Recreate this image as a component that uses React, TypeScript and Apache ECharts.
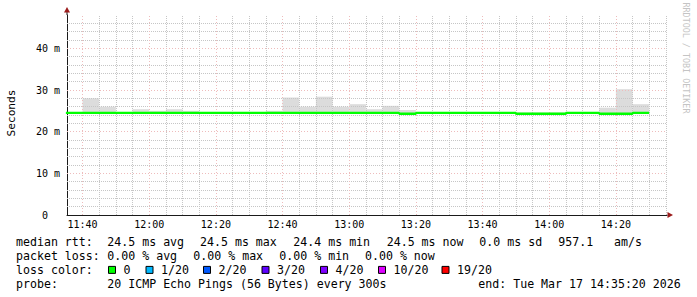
import React, { useEffect, useRef } from 'react';
import * as echarts from 'echarts';

// ---- data ----
const slotStarts = [
  '11:35', '11:40', '11:45', '11:50', '11:55',
  '12:00', '12:05', '12:10', '12:15', '12:20', '12:25', '12:30', '12:35', '12:40', '12:45', '12:50', '12:55',
  '13:00', '13:05', '13:10', '13:15', '13:20', '13:25', '13:30', '13:35', '13:40', '13:45', '13:50', '13:55',
  '14:00', '14:05', '14:10', '14:15', '14:20', '14:25',
];
// median rtt per 5-minute slot (ms)
const medianRtt = [
  24.5, 24.5, 24.5, 24.5, 24.5, 24.5, 24.5, 24.5, 24.5, 24.5,
  24.5, 24.5, 24.5, 24.5, 24.5, 24.5, 24.5, 24.5, 24.5, 24.5,
  24.3, 24.5, 24.5, 24.5, 24.5, 24.5, 24.5, 24.3, 24.3, 24.3,
  24.5, 24.5, 24.3, 24.3, 24.5,
];
// highest ping per slot (top of the smoke, ms)
const smokeMax = [
  24.6, 28.0, 26.0, 24.7, 25.4, 25.0, 25.4, 25.0, 24.7, 24.6,
  24.6, 24.7, 25.0, 28.2, 26.0, 28.4, 26.0, 26.6, 25.4, 26.2,
  25.2, 24.7, 24.6, 24.6, 24.7, 24.6, 24.6, 24.6, 24.6, 24.6,
  24.7, 24.6, 25.75, 30.2, 26.6,
];
const slotLength = 5; // minutes (300 s step)
const windowStart = '11:35:20';
const windowEnd = '14:35:20';
const xTickLabels = ['11:40', '12:00', '12:20', '12:40', '13:00', '13:20', '13:40', '14:00', '14:20'];
const yTickValues = [0, 10, 20, 30, 40];
const yTickLabels = ['0', '10 m', '20 m', '30 m', '40 m'];
const yMax = 48;
const yMinorStep = 2;
const xMinorStep = 5;

const statsRow1 = ['median rtt:', '24.5 ms avg', '24.5 ms max', '24.4 ms min', '24.5 ms now', '0.0 ms sd', '957.1', 'am/s'];
const statsRow2 = ['packet loss:', '0.00 % avg', '0.00 % max', '0.00 % min', '0.00 % now'];
const lossLabels = ['0', '1/20', '2/20', '3/20', '4/20', '10/20', '19/20'];
const lossColors = ['#00ff00', '#00b8ff', '#0059ff', '#5e00ff', '#7e00ff', '#dd00ff', '#ff0000'];
const probeRow = ['probe:', '20 ICMP Echo Pings (56 Bytes) every 300s', 'end: Tue Mar 17 14:35:20 2026'];

// ---- layout ----
const row1X = [16, 107.3, 200, 293.3, 386.7, 479.3, 558.3, 614];
const row2X = [16, 107.3, 193.3, 279.3, 365];
const lossBoxX = [108.5, 146, 203.5, 262, 320.5, 378.5, 442];
const probeX = [16, 107.3, 478.3];
const rowY = [241.5, 255.7, 269.9, 284.1];

const toMin = (s: string) => {
  const p = s.split(':').map(Number);
  return p[0] * 60 + p[1] + (p[2] || 0) / 60;
};

const MONO = '"DejaVu Sans Mono", monospace';

export default function App() {
  const ref = useRef<HTMLDivElement>(null);
  useEffect(() => {
    const chart = echarts.init(ref.current!, null, { renderer: 'svg' });
    const xMin = toMin(windowStart);
    const xMax = toMin(windowEnd);
    const slotMins = slotStarts.map(toMin);
    const majorX = xTickLabels.map(toMin);

    const smokeData = slotMins.map((m, i) => [m, medianRtt[i], smokeMax[i]]);
    const lineData = slotMins.map((m, i) => [m, medianRtt[i]]);
    lineData.push([slotMins[slotMins.length - 1] + slotLength, medianRtt[medianRtt.length - 1]]);

    const minorStyle = { color: '#c6c6c6', width: 1, type: [1, 1] as any };
    const majorStyle = { color: '#eebcbc', width: 1, type: [1, 2] as any };
    const gridLines: any[] = [];
    for (let v = Math.ceil(xMin / xMinorStep) * xMinorStep; v < xMax; v += xMinorStep) {
      if (!majorX.some((mv) => Math.abs(mv - v) < 1e-6)) gridLines.push({ xAxis: v, lineStyle: minorStyle });
    }
    for (let v = yMinorStep; v < yMax; v += yMinorStep) {
      if (!yTickValues.includes(v)) gridLines.push({ yAxis: v, lineStyle: minorStyle });
    }
    majorX.forEach((v) => gridLines.push({ xAxis: v, lineStyle: majorStyle }));
    yTickValues.filter((v) => v > 0).forEach((v) => gridLines.push({ yAxis: v, lineStyle: majorStyle }));

    const txt = (text: string, x: number, y: number, extra: any = {}) => ({
      type: 'text',
      x,
      y,
      silent: true,
      style: {
        text,
        fill: '#000',
        font: `11.6px ${MONO}`,
        textAlign: 'left',
        align: 'left',
        textVerticalAlign: 'middle',
        verticalAlign: 'middle',
        ...extra,
      },
    });

    const elements: any[] = [];
    statsRow1.forEach((t, i) => elements.push(txt(t, row1X[i], rowY[0])));
    statsRow2.forEach((t, i) => elements.push(txt(t, row2X[i], rowY[1])));
    elements.push(txt('loss color:', 16, rowY[2]));
    lossLabels.forEach((t, i) => {
      elements.push({
        type: 'rect',
        silent: true,
        shape: { x: lossBoxX[i], y: rowY[2] - 3.5, width: 7, height: 7 },
        style: { fill: lossColors[i], stroke: '#000', lineWidth: 1 },
      });
      elements.push(txt(t, lossBoxX[i] + 15, rowY[2]));
    });
    probeRow.forEach((t, i) => elements.push(txt(t, probeX[i], rowY[3])));
    // y axis title
    elements.push({
      type: 'text', x: 11, y: 113, rotation: Math.PI / 2, silent: true,
      style: { text: 'Seconds', fill: '#000', font: `11.2px ${MONO}`, textAlign: 'center', align: 'center', textVerticalAlign: 'middle', verticalAlign: 'middle' },
    });
    // watermark
    elements.push({
      type: 'text', x: 686, y: 58, rotation: -Math.PI / 2, silent: true,
      style: { text: 'RRDTOOL / TOBI OETIKER', fill: '#c4c4c4', font: `8.4px ${MONO}`, textAlign: 'center', align: 'center', textVerticalAlign: 'middle', verticalAlign: 'middle' },
    });
    // axis arrows
    elements.push({ type: 'line', silent: true, shape: { x1: 67, y1: 15, x2: 67, y2: 12 }, style: { stroke: '#1a1a1a', lineWidth: 1 } });
    elements.push({ type: 'polygon', silent: true, shape: { points: [[64, 12.5], [70, 12.5], [67, 7]] }, style: { fill: '#9b1c1c' } });
    elements.push({ type: 'polygon', silent: true, shape: { points: [[667.5, 212], [667.5, 218], [673, 215]] }, style: { fill: '#9b1c1c' } });

    chart.setOption({
      animation: false,
      backgroundColor: '#ffffff',
      grid: { left: 67, top: 15, width: 600, height: 200, containLabel: false },
      xAxis: {
        type: 'value',
        min: xMin,
        max: xMax,
        splitNumber: 9,
        axisLine: { show: true, lineStyle: { color: '#1a1a1a', width: 1 } },
        axisTick: { show: false },
        splitLine: { show: false },
        axisLabel: {
          customValues: majorX,
          margin: 4,
          color: '#000',
          fontFamily: MONO,
          fontSize: 10,
          formatter: (v: number) => {
            const idx = majorX.findIndex((mv) => Math.abs(mv - v) < 1e-6);
            return idx >= 0 ? xTickLabels[idx] : '';
          },
        },
      },
      yAxis: {
        type: 'value',
        min: 0,
        max: yMax,
        interval: 10,
        axisLine: { show: true, lineStyle: { color: '#1a1a1a', width: 1 } },
        axisTick: { show: false },
        splitLine: { show: false },
        axisLabel: {
          margin: 7,
          color: '#000',
          fontFamily: MONO,
          fontSize: 10,
          formatter: (v: number) => {
            const idx = yTickValues.indexOf(v);
            if (idx < 0) return '';
            return v === 0 ? `{z|${yTickLabels[idx]}}` : yTickLabels[idx];
          },
          rich: { z: { fontFamily: MONO, fontSize: 10, color: '#000', padding: [0, 12, 0, 0] } },
        },
      },
      graphic: { elements },
      series: [
        {
          type: 'custom',
          name: 'smoke',
          clip: true,
          z: 1,
          encode: { x: 0, y: [1, 2] },
          data: smokeData,
          renderItem: (params: any, api: any) => {
            const s = api.value(0);
            const med = api.value(1);
            const top = api.value(2);
            const p0 = api.coord([s, top]);
            const p1 = api.coord([s + slotLength, med]);
            return {
              type: 'rect',
              shape: { x: p0[0], y: p0[1], width: p1[0] - p0[0], height: p1[1] - p0[1] },
              style: { fill: '#dcdcdc' },
            };
          },
          markLine: {
            silent: true,
            symbol: ['none', 'none'],
            label: { show: false },
            z: 5,
            data: gridLines,
          },
        },
        {
          type: 'line',
          name: 'median rtt',
          step: 'end',
          z: 10,
          symbol: 'none',
          clip: true,
          lineStyle: { color: '#00ff00', width: 2.4 },
          data: lineData,
        },
      ],
    });
    return () => chart.dispose();
  }, []);
  return (
    <div
      ref={ref}
      style={{ position: 'fixed', left: 0, top: 0, width: 697, height: 297, background: '#fff' }}
    />
  );
}
